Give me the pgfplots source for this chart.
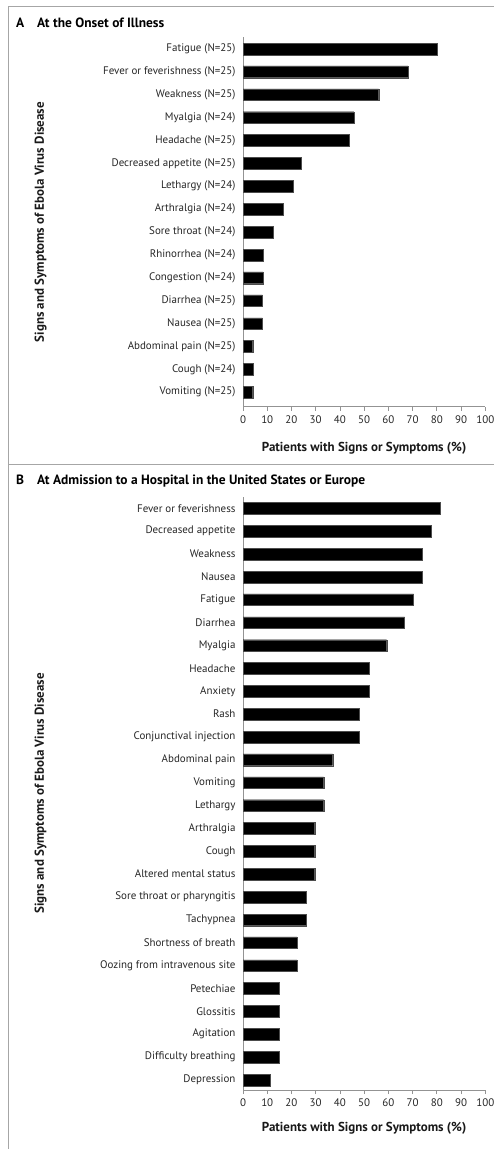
\documentclass[border=0pt]{standalone}
\usepackage{fontspec}
\setmainfont{PT Sans}
\usepackage{pgfplots}
\pgfplotsset{compat=1.18}
\usepackage{pgfplotstable}

\pgfplotstableread[col sep=comma]{
label,val
Vomiting (N=25),4
Cough (N=24),4.2
Abdominal pain (N=25),4
Nausea (N=25),8
Diarrhea (N=25),8
Congestion (N=24),8.3
Rhinorrhea (N=24),8.3
Sore throat (N=24),12.5
Arthralgia (N=24),16.7
Lethargy (N=24),20.8
Decreased appetite (N=25),24
Headache (N=25),44
Myalgia (N=24),45.8
Weakness (N=25),56
Fever or feverishness (N=25),68
Fatigue (N=25),80
}\tableA

\pgfplotstableread[col sep=comma]{
label,val
Depression,11.1
Difficulty breathing,14.8
Agitation,14.8
Glossitis,14.8
Petechiae,14.8
Oozing from intravenous site,22.2
Shortness of breath,22.2
Tachypnea,25.9
Sore throat or pharyngitis,25.9
Altered mental status,29.6
Cough,29.6
Arthralgia,29.6
Lethargy,33.3
Vomiting,33.3
Abdominal pain,37.0
Conjunctival injection,48.1
Rash,48.1
Anxiety,51.9
Headache,51.9
Myalgia,59.3
Diarrhea,66.7
Fatigue,70.4
Nausea,74.1
Weakness,74.1
Decreased appetite,77.8
Fever or feverishness,81.5
}\tableB

\pgfplotsset{
  panel/.style={
    scale only axis, xbar, bar width=11.7bp,
    xmin=0, xmax=100, width=242.3bp,
    axis x line*=bottom, axis y line*=left,
    axis line style={draw=gray!85, line width=0.8bp, -},
    xtick={0,10,...,100}, tick align=outside,
    x tick style={draw=gray!85, line width=0.8bp},
    y tick style={draw=none},
    major tick length=4bp,
    tick label style={font=\fontsize{11}{13}\selectfont, text=black!85},
    xticklabel style={yshift=-1bp},
    /pgf/number format/assume math mode=true,
    xlabel={Patients with Signs or Symptoms (\%)},
    ylabel={Signs and Symptoms of Ebola Virus Disease},
    label style={font=\bfseries\fontsize{13}{15}\selectfont, text=black!90},
    ylabel style={at={(axis description cs:-0.835,0.5)}, anchor=center},
  }
}

\begin{document}
\begin{tikzpicture}
\useasboundingbox (0,0) rectangle (494bp,1149bp);
\draw[gray!70, line width=1bp] (8.3bp,0) -- (8.3bp,1142.3bp) -- (494bp,1142.3bp);
\draw[gray!70, line width=1bp] (8.3bp,684bp) -- (494bp,684bp);
\node[anchor=base west, inner sep=0pt, font=\bfseries\fontsize{13.5}{15}\selectfont] at (16bp,1121bp) {A};
\node[anchor=base west, inner sep=0pt, font=\bfseries\fontsize{13.5}{15}\selectfont] at (37bp,1121bp) {At the Onset of Illness};
\node[anchor=base west, inner sep=0pt, font=\bfseries\fontsize{13.5}{15}\selectfont] at (16bp,664bp) {B};
\node[anchor=base west, inner sep=0pt, font=\bfseries\fontsize{13.5}{15}\selectfont] at (37bp,664bp) {At Admission to a Hospital in the United States or Europe};

\begin{axis}[panel, at={(243bp,742.3bp)}, anchor=south west,
  height=369.2bp, ymin=-0.63, ymax=15.5,
  ytick={0,...,15}, yticklabels from table={\tableA}{label},
  xlabel style={at={(axis description cs:0.5,-0.1227)}, anchor=base}]
\addplot[fill=black, draw=black!70, line width=0.3bp] table[x=val, y expr=\coordindex] {\tableA};
\end{axis}

\begin{axis}[panel, at={(243bp,59bp)}, anchor=south west,
  height=593.1bp, ymin=-0.44, ymax=25.5,
  ytick={0,...,25}, yticklabels from table={\tableB}{label},
  xlabel style={at={(axis description cs:0.5,-0.0708)}, anchor=base}]
\addplot[fill=black, draw=black!70, line width=0.3bp] table[x=val, y expr=\coordindex] {\tableB};
\end{axis}
\end{tikzpicture}
\end{document}
